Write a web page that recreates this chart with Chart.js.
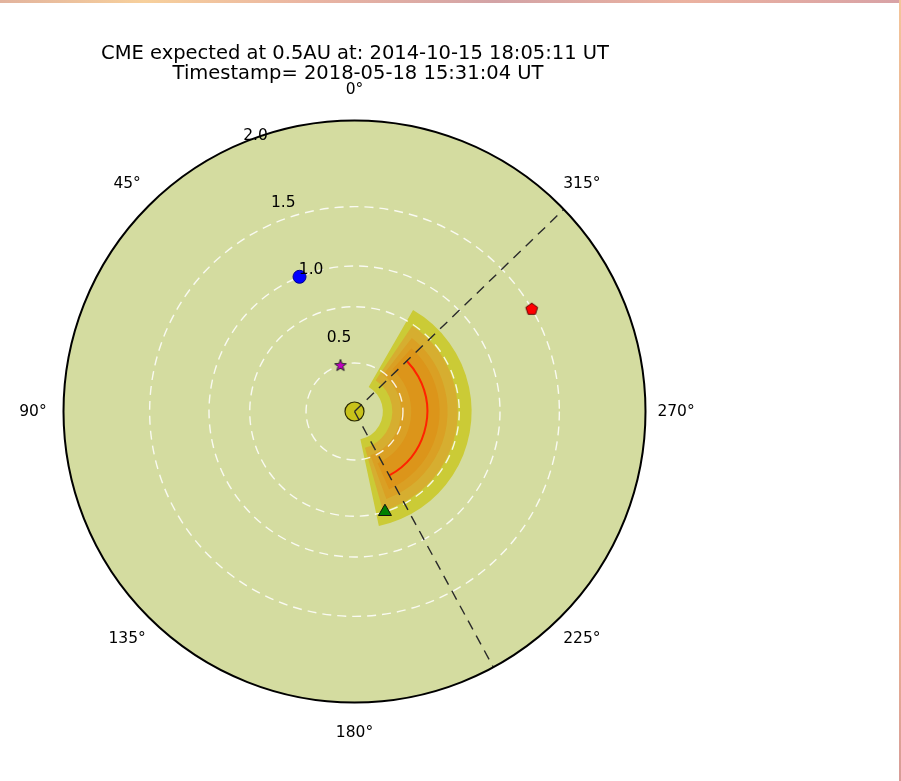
<!DOCTYPE html>
<html lang="en">
<head>
<meta charset="utf-8">
<script src="https://cdn.jsdelivr.net/npm/chart.js"></script>
<style>
    html, body { margin: 0; padding: 0; background: #fff; }
    .frame { position: relative; width: 901px; height: 781px; overflow: hidden; }
    .edge-top {
        position: absolute; left: 0; top: 0; width: 901px; height: 3px;
        background: linear-gradient(90deg, #e2b39e, #f7d09c 16%, #eab5a2 34%, #d3a3a6 55%, #ebb2a0 76%, #d8a2a6 100%);
    }
    .edge-right {
        position: absolute; right: 0; top: 0; width: 2px; height: 781px;
        background: linear-gradient(180deg, #f4c59a, #dea28e 40%, #c8a0aa 58%, #f1b88e 72%, #d89c98 100%);
    }
</style>
</head>
<body>
<div class="frame">
    <canvas id="cmeChart" width="901" height="781"></canvas>
    <div class="edge-top"></div>
    <div class="edge-right"></div>
</div>
<script>
// heliocentric positions: distance in AU, angle in degrees counter-clockwise from the top
const bodyNames = ['Sun', 'Mercury', 'Venus', 'Earth', 'Mars'];
const bodyDist = [0, 0.333, 0.72, 1.0, 1.408];
const bodyAngle = [0, 16.8, 196.9, 22.2, 300.1];
const orbitRadius = [0.333, 0.72, 1.0, 1.408];

// CME cone: edges, front at 0.5 AU and the uncertainty shells
const cmeEdgeAngles = [208.5, 314.0];
const cmeFrontRadius = 0.5;
const bandInner = [0.195, 0.26, 0.32, 0.39];
const bandOuter = [0.805, 0.71, 0.64, 0.585];
const bandStart = [192, 196, 200, 204];
const bandEnd = [330, 326, 322, 318];

const radialTicks = [0.5, 1.0, 1.5, 2.0];
const angleTicks = [0, 45, 90, 135, 180, 225, 270, 315];
const rMax = 2.0;

const bandColors = ['#cbcb36', '#d6ae30', '#daa024', '#dc951a'];
const FONT = "'DejaVu Sans', sans-serif";

function toXY(r, deg) {
    const a = deg * Math.PI / 180;
    return { x: -r * Math.sin(a), y: r * Math.cos(a) };
}

// canvas angle (clockwise from +x, y down) for a polar angle
function canvasAngle(deg) {
    return -(deg + 90) * Math.PI / 180;
}

function markerImage(size, drawFn) {
    const c = document.createElement('canvas');
    c.width = size; c.height = size;
    drawFn(c.getContext('2d'), size / 2);
    return c;
}

function polygonPath(ctx, cx, cy, n, rOut, rIn) {
    ctx.beginPath();
    const steps = rIn ? n * 2 : n;
    for (let i = 0; i < steps; i++) {
        const rr = rIn && i % 2 ? rIn : rOut;
        const a = -Math.PI / 2 + i * Math.PI * 2 / steps;
        const x = cx + rr * Math.cos(a), y = cy + rr * Math.sin(a);
        if (i === 0) ctx.moveTo(x, y); else ctx.lineTo(x, y);
    }
    ctx.closePath();
}

const starImg = markerImage(16, (ctx, c) => {
    polygonPath(ctx, c, c + 0.5, 5, 6.2, 2.6);
    ctx.fillStyle = '#c000c0';
    ctx.fill();
    ctx.lineWidth = 1;
    ctx.strokeStyle = '#222';
    ctx.stroke();
});

const pentagonImg = markerImage(16, (ctx, c) => {
    polygonPath(ctx, c, c + 0.5, 5, 6.2);
    ctx.fillStyle = '#ff0000';
    ctx.fill();
    ctx.lineWidth = 1;
    ctx.strokeStyle = '#5a0000';
    ctx.stroke();
});

function bodyPoint(name) {
    const i = bodyNames.indexOf(name);
    return [toXY(bodyDist[i], bodyAngle[i])];
}

function edgeLine(deg) {
    return [toXY(0, deg), toXY(rMax, deg)];
}

const polarBackdrop = {
    id: 'polarBackdrop',
    beforeDatasetsDraw(chart) {
        const ctx = chart.ctx;
        const xs = chart.scales.x, ys = chart.scales.y;
        const cx = xs.getPixelForValue(0), cy = ys.getPixelForValue(0);
        const px = r => xs.getPixelForValue(r) - cx;

        ctx.save();
        ctx.beginPath();
        ctx.arc(cx, cy, px(rMax), 0, Math.PI * 2);
        ctx.fillStyle = '#d4dca0';
        ctx.fill();

        // uncertainty shells of the CME
        bandInner.forEach((ri, i) => {
            ctx.beginPath();
            ctx.arc(cx, cy, px(bandOuter[i]), canvasAngle(bandStart[i]), canvasAngle(bandEnd[i]), true);
            ctx.arc(cx, cy, px(ri), canvasAngle(bandEnd[i]), canvasAngle(bandStart[i]), false);
            ctx.closePath();
            ctx.fillStyle = bandColors[i];
            ctx.fill();
        });

        // planetary orbits
        ctx.setLineDash([9, 6]);
        ctx.lineWidth = 1.4;
        ctx.strokeStyle = 'rgba(255,255,255,0.85)';
        orbitRadius.forEach(r => {
            ctx.beginPath();
            ctx.arc(cx, cy, px(r), 0, Math.PI * 2);
            ctx.stroke();
        });
        ctx.setLineDash([]);

        // CME front
        ctx.beginPath();
        ctx.arc(cx, cy, px(cmeFrontRadius), canvasAngle(cmeEdgeAngles[0]), canvasAngle(cmeEdgeAngles[1]), true);
        ctx.lineWidth = 2;
        ctx.strokeStyle = '#ff2200';
        ctx.stroke();
        ctx.restore();
    },
    afterDraw(chart) {
        const ctx = chart.ctx;
        const xs = chart.scales.x, ys = chart.scales.y;
        const cx = xs.getPixelForValue(0), cy = ys.getPixelForValue(0);
        const px = r => xs.getPixelForValue(r) - cx;

        ctx.save();
        ctx.beginPath();
        ctx.arc(cx, cy, px(rMax), 0, Math.PI * 2);
        ctx.lineWidth = 2;
        ctx.strokeStyle = '#000';
        ctx.stroke();

        ctx.fillStyle = '#000';
        ctx.font = '15.5px ' + FONT;
        ctx.textAlign = 'center';
        ctx.textBaseline = 'middle';
        angleTicks.forEach(a => {
            const p = toXY(rMax * 1.105, a);
            ctx.fillText(a + '°', xs.getPixelForValue(p.x), ys.getPixelForValue(p.y));
        });

        ctx.textAlign = 'left';
        ctx.textBaseline = 'bottom';
        radialTicks.forEach(r => {
            const p = toXY(r, 22.5);
            ctx.fillText(r.toFixed(1), xs.getPixelForValue(p.x), ys.getPixelForValue(p.y) + 1);
        });

        ctx.font = '19.5px ' + FONT;
        ctx.textAlign = 'center';
        ctx.textBaseline = 'middle';
        ctx.fillText('CME expected at 0.5AU at: 2014-10-15 18:05:11 UT', 355, 54);
        ctx.fillText('Timestamp= 2018-05-18 15:31:04 UT', 358, 74);
        ctx.restore();
    }
};

new Chart(document.getElementById('cmeChart'), {
    type: 'scatter',
    data: {
        datasets: [
            { label: 'Earth', data: bodyPoint('Earth'), pointStyle: 'circle', pointRadius: 6.5,
              backgroundColor: '#0000ff', borderColor: '#00008a', borderWidth: 1, order: 0 },
            { label: 'Mars', data: bodyPoint('Mars'), pointStyle: pentagonImg, order: 0 },
            { label: 'Mercury', data: bodyPoint('Mercury'), pointStyle: starImg, order: 0 },
            { label: 'Venus', data: bodyPoint('Venus'), pointStyle: 'triangle', pointRadius: 7.5,
              backgroundColor: '#008000', borderColor: '#111', borderWidth: 1, order: 0 },
            { label: 'edge1', data: edgeLine(cmeEdgeAngles[0]), showLine: true, pointRadius: 0,
              borderColor: '#2a2a2a', borderWidth: 1.4, borderDash: [10, 7], order: 1 },
            { label: 'edge2', data: edgeLine(cmeEdgeAngles[1]), showLine: true, pointRadius: 0,
              borderColor: '#2a2a2a', borderWidth: 1.4, borderDash: [10, 7], order: 1 },
            { label: 'Sun', data: bodyPoint('Sun'), pointStyle: 'circle', pointRadius: 9.5,
              backgroundColor: '#c8c21a', borderColor: '#2a2a00', borderWidth: 1.2, order: 2 }
        ]
    },
    options: {
        responsive: false,
        animation: false,
        events: [],
        clip: false,
        layout: { padding: { left: 63.5, right: 255.5, top: 120.5, bottom: 78.5 } },
        scales: {
            x: { type: 'linear', min: -rMax, max: rMax, display: false },
            y: { type: 'linear', min: -rMax, max: rMax, display: false }
        },
        plugins: {
            legend: { display: false },
            tooltip: { enabled: false },
            title: { display: false }
        }
    },
    plugins: [polarBackdrop]
});
</script>
</body>
</html>
